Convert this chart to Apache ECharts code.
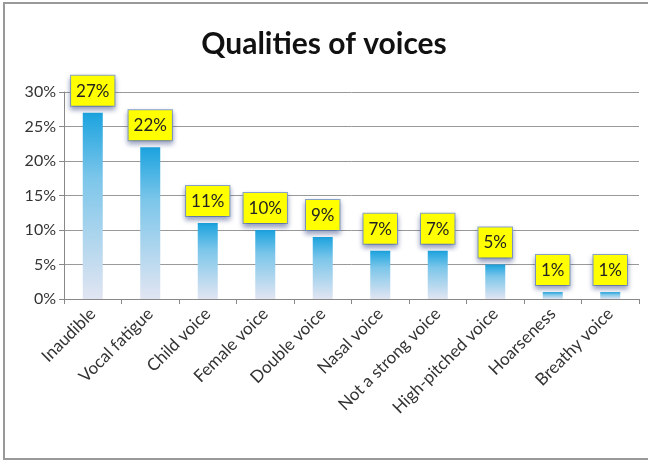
<!DOCTYPE html>
<html>
<head>
<meta charset="utf-8">
<script src="https://cdn.jsdelivr.net/npm/echarts@6/dist/echarts.min.js"></script>
<style>
html,body{margin:0;padding:0;background:#fff;}
#main{width:648px;height:462px;}
</style>
</head>
<body>
<div id="main"></div>
<script>
// voice qualities, share of answers in %
var categories = ['Inaudible','Vocal fatigue','Child voice','Female voice','Double voice','Nasal voice','Not a strong voice','High-pitched voice','Hoarseness','Breathy voice'];
var values = [27, 22, 11, 10, 9, 7, 7, 5, 1, 1];
var yTicks = [0, 5, 10, 15, 20, 25, 30];

var myChart = echarts.init(document.getElementById('main'));
myChart.setOption({
    textStyle: { fontFamily: 'Lato' },
    title: {
        text: 'Qualities of voices',
        left: 'center',
        top: 24,
        textStyle: { fontSize: 30, fontWeight: 'bold', color: '#111', fontFamily: 'Lato' }
    },
    graphic: [{
        type: 'rect',
        shape: { x: 4, y: 3, width: 660, height: 456 },
        style: { fill: 'none', stroke: '#999', lineWidth: 2 },
        silent: true
    }],
    grid: {
        left: 64,
        right: 9,
        top: 92,
        bottom: 163
    },
    xAxis: {
        type: 'category',
        data: categories,
        axisLine: { lineStyle: { color: '#888' } },
        axisTick: { show: true, length: 5, lineStyle: { color: '#888' } },
        axisLabel: { rotate: 45, fontSize: 17, color: '#333', margin: 12, interval: 0 }
    },
    yAxis: {
        type: 'value',
        min: yTicks[0],
        max: yTicks[yTicks.length - 1],
        interval: 5,
        axisLine: { show: true, lineStyle: { color: '#888' } },
        axisTick: { show: true, length: 5, lineStyle: { color: '#888' } },
        axisLabel: { formatter: '{value}%', fontSize: 16, color: '#333', margin: 8 },
        splitLine: { lineStyle: { color: '#999' } }
    },
    series: [{
        type: 'bar',
        data: values,
        barWidth: 20,
        itemStyle: {
            color: new echarts.graphic.LinearGradient(0, 0, 0, 1, [
                { offset: 0, color: '#1ba3df' },
                { offset: 0.35, color: '#7cc6ea' },
                { offset: 1, color: '#e1e5f2' }
            ])
        },
        label: {
            show: true,
            position: 'top',
            distance: 7,
            formatter: '{c}%',
            fontSize: 17,
            color: '#222',
            backgroundColor: '#ffff00',
            borderColor: '#8aa4c8',
            borderWidth: 1,
            padding: [7, 5, 6, 5],
            shadowColor: 'rgba(20,40,110,0.45)',
            shadowBlur: 5,
            shadowOffsetY: 3
        }
    }]
});
</script>
</body>
</html>
